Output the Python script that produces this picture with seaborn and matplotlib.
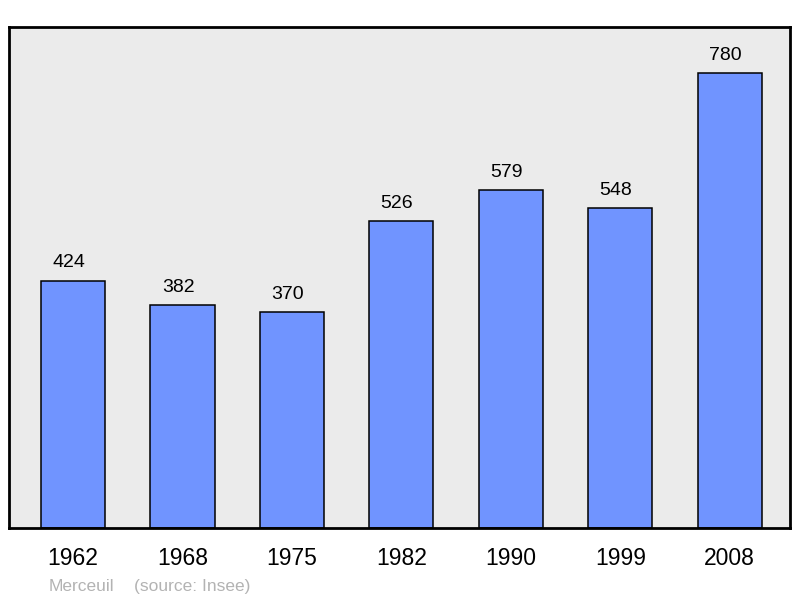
import matplotlib
matplotlib.use("Agg")
import matplotlib.pyplot as plt
import seaborn as sns
import pandas as pd

years = ["1962", "1968", "1975", "1982", "1990", "1999", "2008"]
population = [424, 382, 370, 526, 579, 548, 780]
town = "Merceuil"
source = "(source: Insee)"

df = pd.DataFrame({"year": years, "population": population})

sns.set_style("white")
plt.rcParams["font.family"] = ["Liberation Sans", "DejaVu Sans"]

fig = plt.figure(figsize=(8, 5.98), dpi=100)
ax = fig.add_axes([0.01125, 0.117, 0.97625, 0.8378])
ax.set_facecolor("#ebebeb")

sns.barplot(data=df, x="year", y="population", color="#7094ff", saturation=1,
            width=0.585, edgecolor="black", linewidth=1.1, ax=ax)

for i, v in enumerate(population):
    ax.text(i - 0.04, v + 16, str(v), ha="center", va="bottom", fontsize=14, color="black")

ax.set_xlim(-0.585, 6.55)
ax.set_ylim(0, 859)
ax.set_yticks([])
ax.set_xlabel("")
ax.set_ylabel("")
ax.tick_params(axis="x", length=0, labelsize=16.5, pad=14, labelcolor="black")
for s in ax.spines.values():
    s.set_visible(True)
    s.set_linewidth(2)
    s.set_color("black")

fig.text(0.061, 0.012, town, fontsize=12.5, color="#b3b3b3")
fig.text(0.168, 0.012, source, fontsize=12.5, color="#b3b3b3")

fig.savefig("out.png", dpi=100)
